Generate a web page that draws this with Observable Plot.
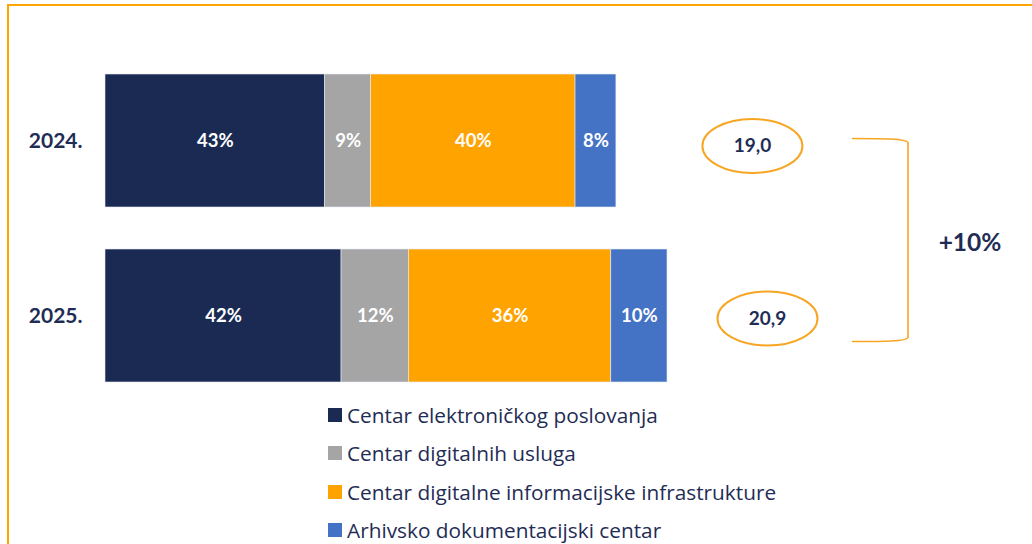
<!DOCTYPE html>
<html><head><meta charset="utf-8">
<script src="https://cdn.jsdelivr.net/npm/d3@7"></script>
<script src="https://cdn.jsdelivr.net/npm/@observablehq/plot@0.6"></script>
<style>
body{margin:0;background:#fff;font-family:Lato, sans-serif;}
#wrap{position:relative;width:1032px;height:544px;overflow:hidden;background:#fff;}
#frame{position:absolute;left:7px;top:4px;width:1100px;height:600px;border-top:2px solid #ffa500;border-left:2px solid #ffa500;pointer-events:none;}
#legend{position:absolute;left:328px;top:396px;color:#1f2d55;font-size:20.8px;font-family:"Open Sans", sans-serif;}
.li{display:flex;align-items:center;height:38.3px;white-space:nowrap;}
.sw{width:14px;height:14px;margin-right:5px;flex:none;}
</style></head>
<body><div id="wrap"><div id="chart"></div><div id="legend"></div><div id="frame"></div></div>
<script>
const years = ["2024.", "2025."];
const centers = ["Centar elektroničkog poslovanja", "Centar digitalnih usluga", "Centar digitalne informacijske infrastrukture", "Arhivsko dokumentacijski centar"];
const colors = ["#1a2a53", "#a5a5a5", "#ffa300", "#4472c4"];
const shares2024 = [43, 9, 40, 8];
const shares2025 = [42, 12, 36, 10];
const totals = [19.0, 20.9];

const navy = "#1f2d55";
const orangeLine = "#f6a623";
const sharesByYear = [shares2024, shares2025];
const rows = [];
years.forEach((year, i) => {
  sharesByYear[i].forEach((share, j) => {
    rows.push({year, center: centers[j], share, value: totals[i] * share / 100});
  });
});
const totalRows = years.map((year, i) => ({year, total: totals[i]}));
const fmt = v => v.toFixed(1).replace(".", ",");

const k = 0.5523;
const ellipse = {
  draw(ctx) {
    const rx = 50, ry = 27;
    ctx.moveTo(rx, 0);
    ctx.bezierCurveTo(rx, ry * k, rx * k, ry, 0, ry);
    ctx.bezierCurveTo(-rx * k, ry, -rx, ry * k, -rx, 0);
    ctx.bezierCurveTo(-rx, -ry * k, -rx * k, -ry, 0, -ry);
    ctx.bezierCurveTo(rx * k, -ry, rx, -ry * k, rx, 0);
    ctx.closePath();
  }
};

function totalMarks(row, dx, dy) {
  return [
    Plot.dot([row], {x: "total", y: "year", dx, dy, r: 5, symbol: ellipse, fill: "none", stroke: orangeLine, strokeWidth: 2}),
    Plot.text([row], {x: "total", y: "year", dx, dy, text: d => fmt(d.total), fontSize: 19, fontWeight: "bold", fill: navy})
  ];
}

const plot = Plot.plot({
  width: 1032, height: 395,
  marginTop: 73, marginBottom: 12, marginLeft: 105, marginRight: 0,
  x: {domain: [0, d3.max(totals)], range: [105, 667], axis: null},
  y: {domain: years, paddingInner: 0.2386, paddingOuter: 0, label: null},
  color: {domain: centers, range: colors},
  style: {fontFamily: "Lato, sans-serif", color: navy, overflow: "visible"},
  marks: [
    Plot.barX(rows, Plot.stackX({x: "value", y: "year", fill: "center", order: null, stroke: "#e8ecf4", strokeWidth: 0.6})),
    Plot.textX(rows, Plot.stackX({x: "value", y: "year", order: null, text: d => d.share + "%", fill: "white", fontSize: 18.5, fontWeight: "bold"})),
    Plot.axisY({tickSize: 0, tickPadding: 23, fontSize: 21, fontWeight: "bold", fill: navy}),
    ...totalMarks(totalRows[0], 136, 5),
    ...totalMarks(totalRows[1], 100, 2.5)
  ]
});
document.getElementById("chart").appendChild(plot);

// bracket + growth annotation
const svg = d3.select(plot);
const ys = plot.scale("y");
const yTop = ys.apply(years[0]) + ys.bandwidth / 2 - 2;
const yBot = ys.apply(years[1]) + ys.bandwidth / 2 + 26;
svg.append("path")
  .attr("d", `M852,${yTop} C884,${yTop} 906,${yTop} 908,${yTop + 4} L908,${yBot - 4} C906,${yBot} 884,${yBot} 852,${yBot}`)
  .attr("fill", "none").attr("stroke", orangeLine).attr("stroke-width", 1.6);
const growth = Math.round((totals[1] / totals[0] - 1) * 100);
svg.append("text")
  .attr("x", 970).attr("y", (yTop + yBot) / 2 + 5)
  .attr("text-anchor", "middle").attr("dominant-baseline", "middle")
  .attr("font-size", 24.5).attr("font-weight", "bold").attr("fill", navy)
  .attr("font-family", "Lato, sans-serif")
  .text("+" + growth + "%");

// legend
const legend = d3.select("#legend");
centers.forEach((c, i) => {
  const item = legend.append("div").attr("class", "li");
  item.append("div").attr("class", "sw").style("background", colors[i]);
  item.append("span").text(c);
});
</script>
</body></html>
